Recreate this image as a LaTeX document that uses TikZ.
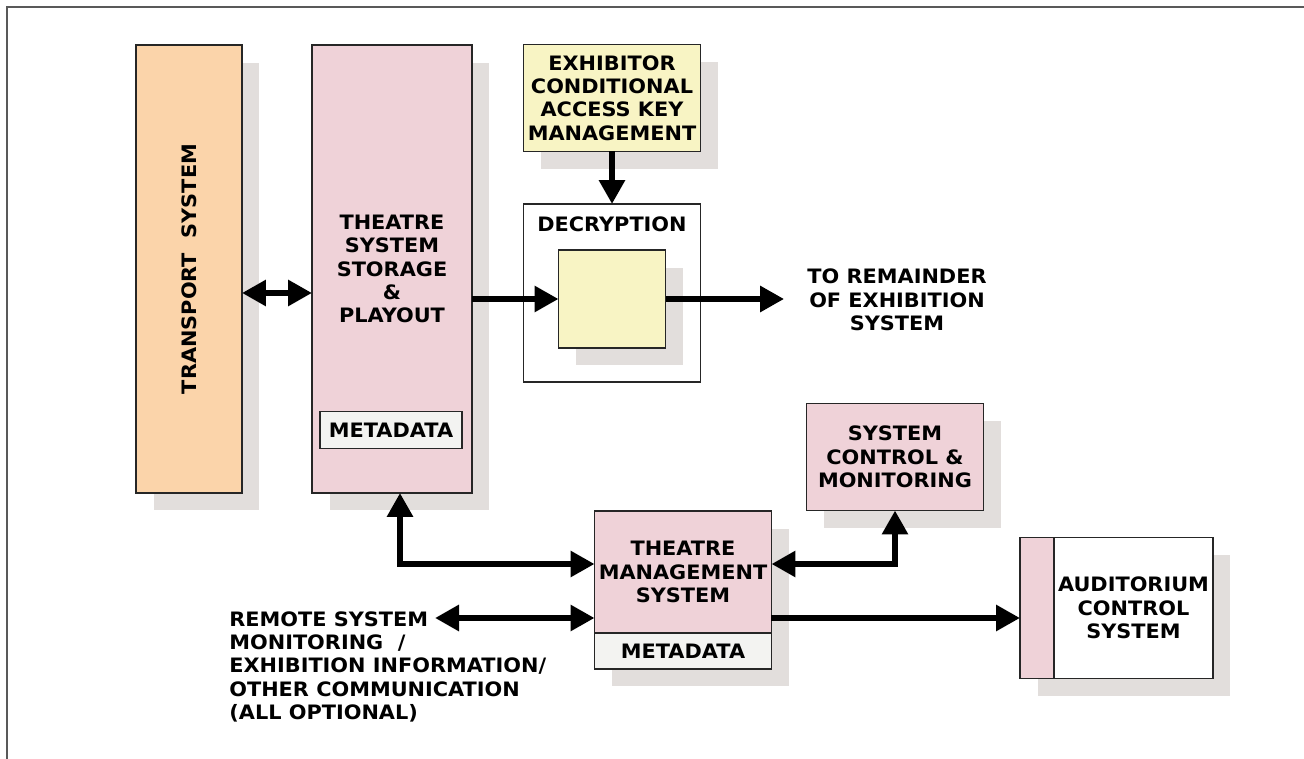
\documentclass[tikz,border=0pt]{standalone}
\usepackage{fontspec}
\setmainfont[FakeStretch=1.05]{DejaVu Sans}
\usetikzlibrary{positioning, arrows.meta, shadows}
\definecolor{peach}{HTML}{FBD4AA}
\definecolor{pinkbox}{HTML}{EFD2D8}
\definecolor{ylw}{HTML}{F8F4C4}
\definecolor{metagray}{HTML}{F3F3F1}
\definecolor{shadowgray}{HTML}{E2DEDC}

\begin{document}
\begin{tikzpicture}[x=0.02cm,y=-0.02cm,
  font=\fontsize{11.3}{13.3}\selectfont\bfseries,
  plain/.style={draw=black!85,line width=0.8pt,align=center,inner sep=0pt,outer sep=0pt},
  blk/.style={plain,general shadow={fill=shadowgray,shadow xshift=0.35cm,shadow yshift=-0.35cm}},
  arr/.style={line width=0.12cm,-{Triangle[length=0.48cm,width=0.5cm]}},
  dbl/.style={line width=0.12cm,{Triangle[length=0.48cm,width=0.5cm]}-{Triangle[length=0.48cm,width=0.5cm]}}]
  \useasboundingbox (0,0) rectangle (1304,759);
  \draw[black!65,line width=1.1pt](1304,7)--(7,7)--(7,759);

  \node[blk,fill=peach,minimum width=2.12cm,minimum height=8.96cm](trans) at (189,269)
       {\rotatebox{90}{TRANSPORT\ \ SYSTEM}};
  \node[blk,fill=pinkbox,minimum width=3.2cm,minimum height=8.96cm](store) at (392,269)
       {THEATRE\\SYSTEM\\STORAGE\\\&\\PLAYOUT};
  \node[plain,fill=metagray,minimum width=2.84cm,minimum height=0.74cm](meta1) at (391,430){METADATA};
  \node[blk,fill=ylw,minimum width=3.54cm,minimum height=2.14cm](excak) at (612,98)
       {EXHIBITOR\\CONDITIONAL\\ACCESS KEY\\MANAGEMENT};
  \node[plain,fill=white,minimum width=3.54cm,minimum height=3.56cm,
        label={[anchor=north,inner sep=0pt,yshift=-0.24cm]north:DECRYPTION}](decr) at (612,293){};
  \node[blk,fill=ylw,minimum width=2.14cm,minimum height=1.96cm](inner) at (612,299){};
  \node[align=center,inner sep=0pt](rem) at (897,300){TO REMAINDER\\OF EXHIBITION\\SYSTEM};
  \node[blk,fill=pinkbox,minimum width=3.54cm,minimum height=2.14cm](scm) at (895,457)
       {SYSTEM\\CONTROL \&\\MONITORING};
  \node[blk,fill=pinkbox,minimum width=3.54cm,minimum height=2.44cm](tms) at (683,572)
       {THEATRE\\MANAGEMENT\\SYSTEM};
  \node[blk,fill=metagray,minimum width=3.54cm,minimum height=0.72cm,below=0pt of tms](meta2){METADATA};
  \node[blk,fill=pinkbox,minimum width=0.68cm,minimum height=2.82cm](strip) at (1037,608){};
  \node[blk,fill=white,minimum width=3.18cm,minimum height=2.82cm,right=0pt of strip](aud)
       {AUDITORIUM\\CONTROL\\SYSTEM};
  \node[align=left,anchor=north west,inner sep=0pt](rsm) at (229,611)
       {REMOTE SYSTEM\\MONITORING~~/\\EXHIBITION INFORMATION/\\OTHER COMMUNICATION\\(ALL OPTIONAL)};
  \coordinate (rsmend) at (435,618);

  \draw[dbl]([yshift=-0.48cm]trans.east)--([yshift=-0.48cm]store.west);
  \draw[arr](excak.south)--(decr.north);
  \draw[arr](store.east |- inner.west)--(inner.west);
  \draw[arr,shorten >=0.46cm](inner.east)--(inner.east -| rem.west);
  \draw[dbl]([xshift=0.16cm]store.south) |- ([yshift=0.16cm]tms.west);
  \draw[dbl]([yshift=0.16cm]tms.east) -| (scm.south);
  \draw[dbl](rsmend)--(rsmend -| tms.west);
  \draw[arr](rsmend -| tms.east)--(rsmend -| strip.west);
\end{tikzpicture}
\end{document}
